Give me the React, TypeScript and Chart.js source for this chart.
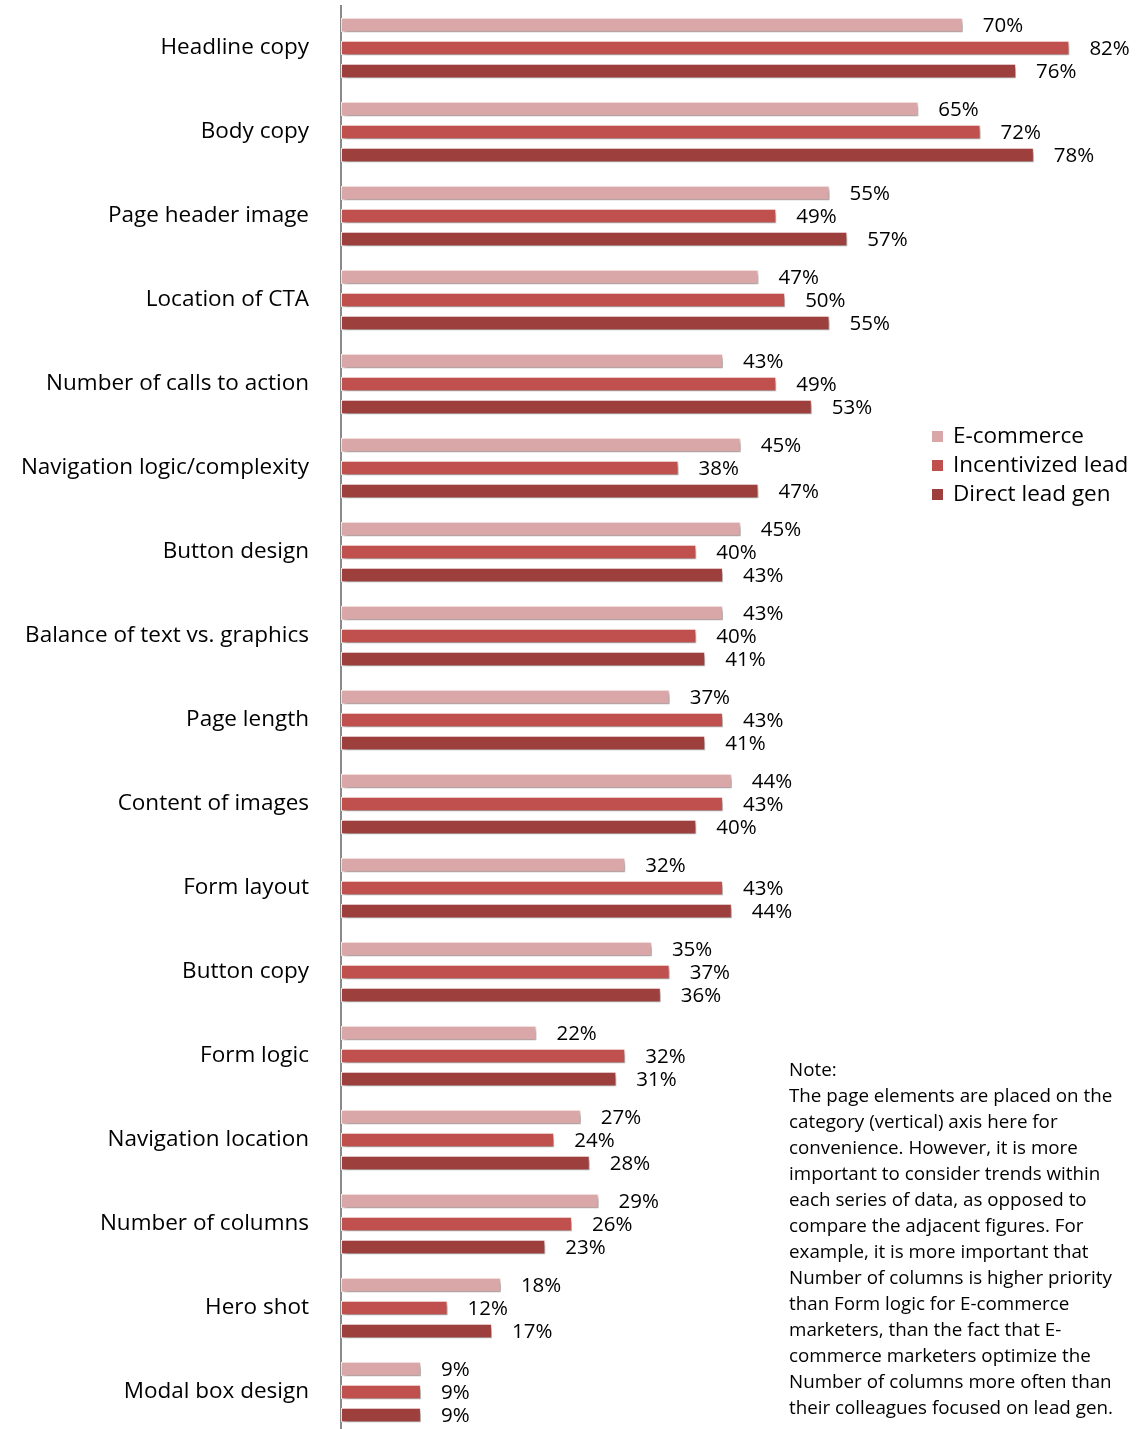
import React, { useEffect, useRef } from "react";
import { Chart, registerables } from "chart.js";

Chart.register(...registerables);

const categories = [
  "Headline copy",
  "Body copy",
  "Page header image",
  "Location of CTA",
  "Number of calls to action",
  "Navigation logic/complexity",
  "Button design",
  "Balance of text vs. graphics",
  "Page length",
  "Content of images",
  "Form layout",
  "Button copy",
  "Form logic",
  "Navigation location",
  "Number of columns",
  "Hero shot",
  "Modal box design",
];

const ecommerce = [70, 65, 55, 47, 43, 45, 45, 43, 37, 44, 32, 35, 22, 27, 29, 18, 9];
const incentivizedLead = [82, 72, 49, 50, 49, 38, 40, 40, 43, 43, 43, 37, 32, 24, 26, 12, 9];
const directLeadGen = [76, 78, 57, 55, 53, 47, 43, 41, 41, 40, 44, 36, 31, 28, 23, 17, 9];

const seriesNames = ["E-commerce", "Incentivized lead", "Direct lead gen"];
const seriesColors = ["#D9A7A7", "#C0504D", "#9C3F3D"];

const noteLines = [
  "Note:",
  "The page elements are placed on the",
  "category (vertical) axis here for",
  "convenience. However, it is more",
  "important to consider trends within",
  "each series of data, as opposed to",
  "compare the adjacent figures. For",
  "example, it is more important that",
  "Number of columns is higher priority",
  "than Form logic for E-commerce",
  "marketers, than the fact that E-",
  "commerce marketers optimize the",
  "Number of columns more often than",
  "their colleagues focused on lead gen.",
];

const FONT = "'Open Sans', 'Liberation Sans', sans-serif";

const shadowPlugin = {
  id: "barShadow",
  beforeDatasetsDraw(chart: any) {
    const ctx = chart.ctx;
    ctx.save();
    ctx.shadowColor = "rgba(0,0,0,0.38)";
    ctx.shadowBlur = 4;
    ctx.shadowOffsetX = 2;
    ctx.shadowOffsetY = 3;
  },
  afterDatasetsDraw(chart: any) {
    chart.ctx.restore();
  },
};

const valueLabelPlugin = {
  id: "valueLabels",
  afterDatasetsDraw(chart: any) {
    const ctx = chart.ctx;
    ctx.save();
    ctx.font = `20.5px ${FONT}`;
    ctx.fillStyle = "#000";
    ctx.textAlign = "left";
    ctx.textBaseline = "middle";
    chart.data.datasets.forEach((ds: any, i: number) => {
      const meta = chart.getDatasetMeta(i);
      meta.data.forEach((el: any, j: number) => {
        ctx.fillText(`${ds.data[j]}%`, el.x + 20, el.y + 1);
      });
    });
    ctx.restore();
  },
};

const legendPlugin = {
  id: "customLegend",
  afterDraw(chart: any) {
    const ctx = chart.ctx;
    ctx.save();
    ctx.font = `22.5px ${FONT}`;
    ctx.textAlign = "left";
    ctx.textBaseline = "middle";
    chart.data.datasets.forEach((ds: any, i: number) => {
      const y = 436 + i * 29;
      ctx.fillStyle = ds.backgroundColor;
      ctx.fillRect(932, y - 5, 11, 11);
      ctx.fillStyle = "#000";
      ctx.fillText(ds.label, 953, y + 1);
    });
    ctx.restore();
  },
};

export default function App() {
  const canvasRef = useRef<HTMLCanvasElement | null>(null);

  useEffect(() => {
    document.body.style.margin = "0";
    const canvas = canvasRef.current;
    if (!canvas) return;
    const datasets = [ecommerce, incentivizedLead, directLeadGen].map((data, i) => ({
      label: seriesNames[i],
      data,
      backgroundColor: seriesColors[i],
      borderColor: "rgba(255,240,240,0.95)",
      borderWidth: 1,
      borderSkipped: false,
      categoryPercentage: 0.821,
      barPercentage: 0.64,
    }));
    const chart = new Chart(canvas, {
      type: "bar",
      data: { labels: categories, datasets },
      options: {
        indexAxis: "y",
        responsive: false,
        animation: false,
        devicePixelRatio: 1,
        layout: { padding: { top: 6, bottom: 2, left: 0, right: 0 } },
        plugins: {
          legend: { display: false },
          tooltip: { enabled: false },
        },
        scales: {
          x: { display: false, min: 0, max: 89.5 },
          y: {
            grid: { display: false, drawTicks: false },
            border: { display: true, color: "#8a8a8a", width: 2 },
            ticks: {
              color: "#000",
              font: { family: FONT, size: 22.5 },
              padding: 32,
              autoSkip: false,
            },
            afterFit(scale: any) {
              scale.width = 341;
              scale.paddingTop = 0;
              scale.paddingBottom = 0;
            },
          },
        },
      },
      plugins: [shadowPlugin, valueLabelPlugin, legendPlugin],
    } as any);
    return () => chart.destroy();
  }, []);

  return (
    <div style={{ position: "relative", width: 1136, height: 1429, overflow: "hidden", background: "#fff" }}>
      <canvas ref={canvasRef} width={1136} height={1436} style={{ display: "block" }} />
      <div
        style={{
          position: "absolute",
          left: 789,
          top: 1056,
          fontFamily: FONT,
          fontSize: 18.8,
          lineHeight: "26px",
          color: "#000",
          whiteSpace: "nowrap",
        }}
      >
        {noteLines.map((l, i) => (
          <div key={i}>{l}</div>
        ))}
      </div>
    </div>
  );
}
